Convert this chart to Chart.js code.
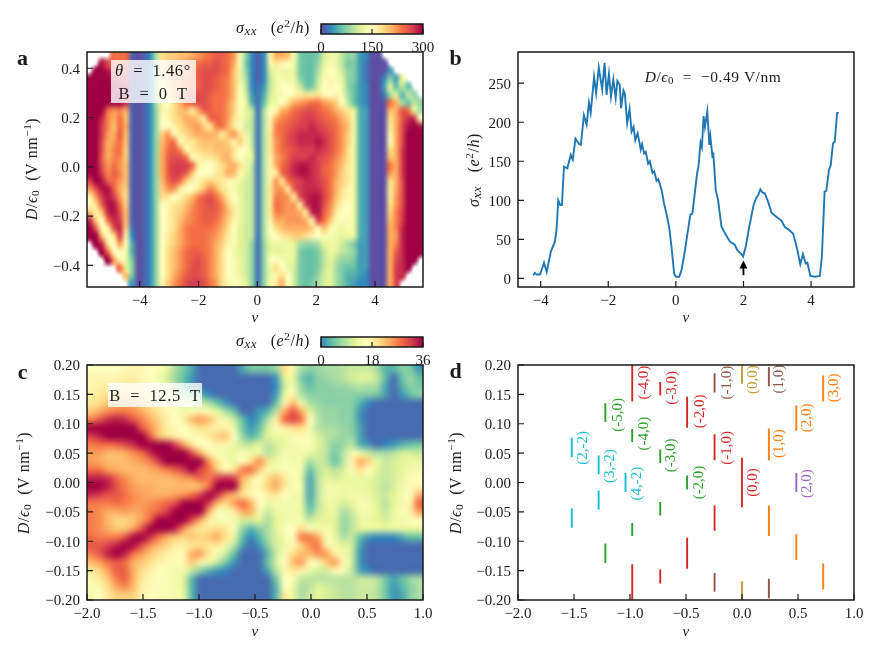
<!DOCTYPE html>
<html>
<head>
<meta charset="utf-8">
<script src="https://cdn.jsdelivr.net/npm/chart.js@4"></script>
<style>
body { margin: 0; background: #fff; }
canvas { position: absolute; }
</style>
</head>
<body>
<script>
const _ = null;

// panel a: sigma_xx in units of 10 e^2/h, rows top to bottom
const rangeNuA = [-5.79, 5.63];
const rangeDA = [-0.488, 0.466];
const sigmaA = [
[_,_,_,_,24,24,24,1, 0,1,3,9,18,19,19,20, 20,21,22,23,24,25,25,24, 22,16,8,3,1,3,16,21, 21,20,14,7,6,6,7,11, 13,13,10,8,8,4,3,0, 0,_,_,_,_,_,_,_],
[_,_,29,26,25,24,25,1, 0,1,3,9,17,19,20,21, 22,23,24,25,25,26,25,24, 21,14,7,3,1,3,13,17, 16,15,13,7,6,6,8,12, 14,13,10,7,7,4,2,0, 0,0,_,_,_,_,_,_],
[_,30,30,29,27,26,26,1, 0,1,3,9,17,18,20,21, 22,23,25,26,26,26,25,24, 20,13,8,3,1,3,11,13, 13,13,12,7,6,6,9,13, 15,14,11,8,7,4,2,0, 0,0,4,_,_,_,_,_],
[30,30,30,30,29,28,27,1, 0,1,3,9,16,18,20,21, 23,24,25,26,26,25,24,23, 20,13,9,3,1,3,10,13, 14,13,13,8,6,6,10,14, 16,14,12,8,7,4,2,0, 0,3,8,4,12,_,_,_],
[30,30,30,30,30,30,29,1, 0,1,3,9,16,18,20,21, 23,24,25,26,26,25,24,23, 20,14,10,3,2,4,10,13, 15,15,14,11,7,7,11,15, 16,15,13,8,6,4,3,0, 0,4,12,6,10,6,_,_],
[30,30,30,30,30,30,29,1, 0,1,3,9,16,17,20,22, 24,25,26,26,25,24,24,23, 20,15,11,4,2,5,11,13, 14,15,16,17,18,17,18,16, 15,16,14,9,6,4,3,0, 0,2,8,12,5,10,8,_],
[30,30,30,30,30,30,28,1, 0,1,3,9,16,15,18,21, 24,25,26,26,25,24,24,22, 19,15,12,5,2,6,12,13, 15,18,21,22,23,24,24,22, 21,19,15,10,6,4,3,0, 0,0,24,21,9,6,10,8],
[30,30,30,24,22,23,21,1, 0,1,3,8,16,16,18,20, 20,17,21,25,25,24,24,22, 19,15,12,10,2,9,15,16, 21,22,24,25,26,26,25,24, 23,21,19,17,12,5,4,0, 0,0,20,21,26,24,12,9],
[30,30,28,23,21,24,20,1, 0,1,3,8,15,16,18,19, 21,21,19,17,24,25,24,22, 18,16,12,10,2,9,16,21, 23,24,25,26,27,27,26,25, 24,23,21,19,13,5,4,0, 0,0,18,21,25,28,28,15],
[30,30,27,23,20,24,21,1, 0,1,3,8,15,15,16,18, 20,21,22,19,17,23,24,21, 17,15,11,10,2,9,16,23, 24,25,26,27,27,28,27,26, 25,24,22,20,13,5,4,0, 0,0,17,21,26,29,30,29],
[30,30,27,22,21,25,20,1, 0,1,3,8,19,22,16,17, 18,20,21,21,21,20,17,20, 22,18,13,10,2,9,17,23, 24,26,27,28,28,28,28,27, 26,24,22,19,13,5,4,0, 0,0,16,21,26,30,30,30],
[30,30,26,21,22,24,20,1, 0,1,3,8,20,23,24,16, 17,17,19,20,20,20,20,19, 16,19,16,10,2,9,17,22, 24,26,27,28,28,28,29,28, 26,24,22,19,13,5,4,0, 0,0,15,21,26,30,30,30],
[30,30,26,21,23,24,19,1, 0,1,3,8,21,24,25,23, 16,17,18,19,19,20,20,20, 18,15,15,11,2,9,17,22, 24,25,26,27,27,27,28,27, 26,24,22,18,13,5,4,0, 0,0,18,21,27,30,30,30],
[30,30,25,21,23,23,19,1, 0,1,3,8,21,25,26,26, 24,16,16,17,17,18,20,21, 17,15,13,12,2,9,16,21, 23,25,27,27,27,28,27,26, 25,23,21,18,13,5,4,0, 0,0,20,21,27,30,30,30],
[30,30,26,22,24,22,20,1, 0,1,3,8,21,25,27,27, 27,25,17,15,15,16,18,20, 21,18,13,10,2,9,16,21, 24,26,28,29,29,28,27,25, 24,22,20,17,13,5,4,0, 0,0,24,21,27,30,30,30],
[30,30,27,23,25,23,20,1, 0,1,3,8,21,25,27,27, 25,20,15,15,15,17,18,21, 20,16,12,10,2,9,16,17, 24,26,28,29,29,28,27,25, 24,22,19,17,13,5,4,0, 0,0,22,21,27,30,30,30],
[27,30,29,25,24,22,20,1, 0,1,3,8,20,24,26,24, 19,16,16,18,19,18,17,16, 14,13,11,10,2,9,16,22, 17,24,26,27,28,28,27,26, 24,21,19,17,13,5,4,0, 0,0,18,21,26,30,30,30],
[22,26,29,29,25,21,19,1, 0,1,3,8,19,22,22,17, 15,15,17,20,23,21,18,16, 14,12,11,10,2,9,17,22, 22,17,25,27,28,28,28,26, 24,21,18,16,13,5,4,0, 0,0,17,21,26,30,30,30],
[16,22,27,29,27,22,18,1, 0,1,3,8,18,17,15,16, 18,20,23,25,26,24,21,17, 15,13,11,10,2,9,17,23, 23,22,17,26,28,29,29,27, 24,20,17,16,13,5,4,0, 0,0,17,22,26,30,30,30],
[15,18,25,29,29,24,19,1, 0,1,3,8,15,16,17,18, 20,22,24,25,26,25,23,19, 16,13,11,10,2,9,17,24, 23,22,22,17,27,29,29,26, 23,19,16,15,13,5,4,0, 0,0,18,22,26,30,30,30],
[20,16,20,28,29,26,20,1, 0,1,3,8,15,16,18,19, 21,23,24,25,25,25,23,20, 17,13,11,10,2,9,17,23, 23,22,22,21,17,28,29,25, 22,17,15,15,13,5,4,0, 0,0,19,23,27,30,30,30],
[28,19,15,24,28,27,20,1, 0,1,3,8,15,16,18,20, 22,23,24,25,25,24,22,19, 16,13,11,10,2,9,16,21, 21,22,22,22,21,16,27,24, 20,16,14,14,13,5,4,0, 0,0,20,23,27,30,30,30],
[30,25,15,17,26,28,19,2, 0,1,3,8,15,16,18,21, 23,24,24,24,24,23,21,18, 15,12,11,10,2,9,15,18, 20,21,21,21,21,19,16,20, 16,14,13,14,13,5,4,0, 0,0,21,23,28,30,30,30],
[30,30,20,15,18,27,16,3, 0,1,3,8,15,17,19,21, 23,24,24,24,23,22,20,17, 14,12,11,10,2,9,14,15, 17,18,19,19,18,16,15,14, 14,13,12,13,12,5,4,0, 0,0,21,22,28,30,30,30],
[_,30,28,17,15,22,14,5, 0,1,3,8,15,17,19,21, 23,24,24,24,23,21,19,16, 14,12,11,8,2,8,12,13, 13,13,12,9,8,8,9,12, 13,13,11,9,7,4,4,0, 0,0,21,23,28,30,30,30],
[_,_,30,24,15,15,13,5, 0,1,3,8,15,18,20,22, 24,25,25,24,23,21,18,15, 13,12,11,8,2,8,12,12, 12,13,12,7,6,6,7,10, 13,12,10,9,8,4,4,0, 0,0,21,25,28,30,30,30],
[_,_,_,30,22,14,13,7, 0,1,3,8,15,18,20,22, 24,25,26,25,23,21,18,15, 14,13,11,8,2,8,15,15, 14,13,12,7,6,6,7,10, 12,10,8,8,7,4,4,0, 0,0,21,26,28,30,30,_],
[_,_,_,_,_,24,12,8, 0,1,3,8,15,18,20,22, 24,26,26,25,23,21,18,15, 14,13,11,8,2,8,13,18, 15,13,11,7,6,6,7,10, 12,9,7,6,6,4,4,0, 0,0,21,27,28,30,_,_],
[_,_,_,_,_,_,20,7, 0,1,3,8,15,18,21,23, 25,26,26,25,23,21,18,15, 14,13,11,8,2,8,13,16, 18,15,11,7,6,6,8,11, 12,9,7,5,5,4,3,0, 0,0,21,27,28,_,_,_],
[_,_,_,_,_,_,_,4, 0,1,3,8,16,19,22,24, 26,27,27,26,24,22,18,16, 15,14,12,8,2,8,14,17, 21,15,11,7,6,7,9,11, 12,9,7,5,4,3,3,0, 0,0,21,27,_,_,_,_]
];
const xTicksA = [-4, -2, 0, 2, 4];
const yTicksA = [-0.4, -0.2, 0, 0.2, 0.4];
const cbTicksA = [0, 150, 300];

// panel b: line cut at D/eps0 = -0.49 V/nm
const nuB = [-4.22,-4.17,-4.12,-4.02,-3.97,-3.9,-3.82,-3.77,-3.7,-3.58,-3.53,-3.48,-3.42,-3.37,-3.31,-3.21,-3.11,-3.05,-2.97,-2.86,-2.81,-2.72,-2.64,-2.57,-2.52,-2.42,-2.36,-2.28,-2.18,-2.11,-2.05,-1.98,-1.92,-1.85,-1.78,-1.73,-1.66,-1.62,-1.55,-1.51,-1.44,-1.37,-1.31,-1.25,-1.2,-1.13,-1.04,-1,-0.94,-0.89,-0.82,-0.77,-0.69,-0.64,-0.57,-0.52,-0.42,-0.35,-0.28,-0.2,-0.13,-0.05,0,0.1,0.17,0.27,0.36,0.43,0.49,0.57,0.63,0.67,0.73,0.77,0.82,0.86,0.93,0.99,1.02,1.08,1.11,1.18,1.25,1.35,1.45,1.6,1.74,1.82,1.94,1.99,2.07,2.17,2.3,2.38,2.43,2.5,2.56,2.63,2.73,2.83,2.97,3.12,3.22,3.35,3.47,3.57,3.68,3.76,3.84,3.89,3.98,4.11,4.26,4.32,4.4,4.45,4.53,4.58,4.65,4.7,4.77,4.82];
const sigmaB = [4,7,5,5,11,20,8,19,34,47,62,100,94,94,143,141,158,152,179,172,171,209,197,225,212,258,237,270,242,276,235,262,233,255,231,253,248,218,241,237,199,217,188,194,177,186,165,172,160,162,147,150,135,137,125,127,113,96,83,66,41,6,2,2,11,36,62,82,83,113,135,143,174,168,208,194,214,171,182,157,159,113,100,66,58,47,43,36,31,28,41,66,94,103,106,114,110,109,98,84,79,74,66,62,57,41,18,31,19,20,3,2,3,28,111,112,139,145,173,175,212,212];
const xTicksB = [-4, -2, 0, 2, 4];
const yTicksB = [0, 50, 100, 150, 200, 250];
const arrowNu = 2, arrowFrom = 4, arrowTo = 23;

// panel c: sigma_xx in e^2/h at 12.5 T, rows top to bottom; values above 36 sit on the saturated end
const sigmaC = [
[16,16,16,16,17,17,17,16, 15,13,8,5,2,-2,-2,-2, -2,-2,2,5,5,5,7,20, 14,8,6,7,8,8,9,10, 10,10,8,3,3,6,5,1],
[17,17,17,17,18,18,17,16, 14,11,7,4,1,-2,-2,-2, -2,-2,-2,-2,-2,-2,1,12, 13,5,3,6,7,8,9,11, 12,12,10,4,-2,4,7,4],
[17,18,18,18,19,19,18,17, 15,12,8,4,1,-2,-2,-2, -2,-2,-2,-2,-2,-2,0,10, 14,7,4,6,6,7,7,8, 9,8,8,2,-2,3,6,5],
[18,19,20,20,21,21,20,18, 16,14,11,8,6,3,0,-2, -2,-2,-2,-2,-2,-2,1,12, 17,8,6,6,6,6,6,6, 6,6,5,2,-2,1,4,6],
[19,20,22,23,24,24,22,20, 18,16,15,13,11,10,8,4, 1,-2,-2,-2,-2,-2,4,17, 23,14,8,7,6,6,6,6, 3,0,-2,-2,-2,-2,-2,-2],
[22,24,26,27,27,26,24,21, 19,17,15,14,15,17,15,12, 8,4,-2,-2,1,3,9,24, 30,24,12,8,7,7,6,6, 1,-2,-2,-2,-2,-2,-2,-2],
[27,30,33,34,33,30,27,24, 21,18,16,18,23,25,23,18, 14,10,4,0,2,8,18,28, 31,28,16,9,7,7,6,6, 1,-2,-2,-2,-2,-2,-2,-2],
[42,42,42,42,42,42,30,26, 22,18,17,16,18,20,19,18, 18,13,5,1,4,11,15,18, 20,20,14,9,8,8,7,6, 2,-2,-2,-2,-2,-2,-2,-2],
[32,34,42,42,42,42,42,30, 23,20,18,16,15,17,19,21, 22,16,7,3,6,12,13,13, 15,17,15,11,9,8,7,7, 2,-2,-2,-2,-2,-2,-2,-2],
[27,28,28,29,31,33,42,42, 42,42,32,25,19,16,16,18, 17,13,10,10,12,9,11,13, 14,15,15,12,9,6,7,9, 3,1,-2,0,1,3,4,5],
[25,25,23,23,24,26,28,33, 42,42,42,42,31,24,18,15, 14,13,15,13,13,9,11,14, 14,14,13,11,9,5,9,14, 14,10,8,8,9,11,11,10],
[25,24,23,23,23,24,25,27, 32,42,42,42,42,42,26,19, 15,13,16,20,26,20,13,15, 14,14,8,10,9,4,9,17, 24,21,13,10,11,12,13,13],
[28,28,25,24,23,23,23,24, 25,27,29,32,42,31,28,22, 17,20,27,28,22,14,14,15, 15,14,4,9,11,9,11,15, 20,16,12,10,11,12,14,14],
[34,34,33,29,26,24,23,23, 23,23,24,25,26,29,27,32, 33,32,24,19,16,20,23,19, 15,13,2,9,12,11,12,13, 13,13,11,10,11,13,15,16],
[42,42,34,30,27,25,24,24, 23,23,23,23,22,23,28,42, 42,42,22,18,17,21,24,19, 15,14,2,9,14,14,13,13, 13,12,11,9,11,14,17,17],
[33,32,30,30,28,26,25,24, 24,24,25,26,28,32,42,33, 26,23,20,17,16,18,19,16, 14,13,2,9,14,14,13,14, 14,13,11,10,12,14,16,24],
[27,27,27,28,27,26,25,26, 27,29,31,42,42,42,32,23, 20,25,28,24,16,13,14,14, 14,13,3,9,13,13,11,12, 15,14,12,9,12,14,18,29],
[27,26,24,24,25,24,25,27, 29,32,42,42,42,42,24,16, 14,18,24,24,14,10,13,14, 14,13,5,10,12,13,8,10, 14,14,12,10,13,15,18,25],
[27,26,23,21,21,22,25,29, 42,42,42,42,31,24,18,14, 15,14,11,11,12,8,12,14, 14,14,10,12,12,12,7,9, 13,13,12,11,13,14,15,16],
[27,26,24,22,22,25,30,42, 42,42,34,26,21,19,19,20, 19,15,7,3,6,8,12,15, 16,20,15,14,14,12,7,9, 12,13,13,12,13,13,13,13],
[28,27,27,27,30,35,42,33, 28,24,22,21,22,21,22,24, 20,13,4,0,3,8,11,14, 16,27,27,24,15,13,8,10, 4,1,0,0,0,2,4,4],
[30,30,32,34,42,35,31,26, 23,21,18,18,19,20,19,19, 14,9,2,-2,1,6,11,13, 17,21,26,27,18,14,12,11, 2,-2,-2,-2,-2,-2,-2,-2],
[27,30,34,36,34,28,25,22, 20,18,17,17,24,25,19,15, 10,4,-2,-2,-2,3,10,15, 20,23,23,26,25,18,14,11, 1,-2,-2,-2,-2,-2,-2,-2],
[23,25,28,30,28,24,22,20, 18,17,15,17,22,18,14,10, 5,1,-2,-2,-2,4,11,16, 23,25,17,15,22,25,17,11, 1,-2,-2,-2,-2,-2,-2,-2],
[19,21,25,29,29,24,20,18, 16,15,14,14,10,6,3,1, 0,-2,-2,-2,-2,2,9,14, 19,18,13,11,11,17,15,10, 2,0,-2,-2,-2,-2,-2,-2],
[17,19,22,27,29,24,19,17, 15,15,14,12,3,-2,-2,-2, -2,-2,-2,-2,-2,-2,5,16, 15,10,9,9,9,9,9,9, 10,10,9,5,2,4,7,8],
[15,17,20,24,26,23,18,17, 15,15,14,12,3,-2,-2,-2, -2,-2,-2,-2,-2,-2,3,15, 13,8,9,12,11,10,9,9, 10,10,9,5,1,3,6,8],
[14,16,19,21,21,21,18,16, 15,15,14,13,3,-2,-2,-2, -2,-2,-2,-2,-2,-2,3,19, 13,8,10,12,11,10,9,9, 10,10,9,5,1,2,6,8]
];
const xTicksC = [-2, -1.5, -1, -0.5, 0, 0.5, 1];
const yTicksC = [-0.2, -0.15, -0.1, -0.05, 0, 0.05, 0.1, 0.15, 0.2];
const cbTicksC = [0, 18, 36];

// panel d: gap segments
const segNu = [-0.98,-0.98,-0.73,-0.73,-0.49,-0.49,-0.245,-0.245,0, -0.245,-0.245,0.24,0.24, 0,0, 0.24,0.24,0.485,0.485,0.725,0.725, -1.22,-1.22,-0.98,-0.98,-0.73,-0.73,-0.49, -1.52,-1.52,-1.28,-1.28,-1.04, 0.485];
const segTop = [0.2,-0.139,0.171,-0.148,0.146,-0.094,0.082,-0.039,0.042, 0.186,-0.154,0.196,-0.164, 0.2,-0.168, 0.092,-0.039,0.131,-0.088,0.182,-0.138, 0.135,-0.104,0.091,-0.069,0.056,-0.033,0.012, 0.076,-0.044,0.046,-0.014,0.016, 0.016];
const segBottom = [0.138,-0.2,0.148,-0.172,0.093,-0.147,0.038,-0.082,-0.042, 0.153,-0.186,0.164,-0.197, 0.168,-0.2, 0.038,-0.091,0.088,-0.132,0.138,-0.182, 0.103,-0.137,0.069,-0.091,0.033,-0.056,-0.012, 0.043,-0.077,0.014,-0.046,-0.016, -0.016];
const segColor = ['r','r','r','r','r','r','r','r','r', 'b','b','b','b', 'y','y', 'o','o','o','o','o','o', 'g','g','g','g','g','g','g', 'c','c','c','c','c', 'p'];
const colorD = { r: '#d62728', b: '#8c564b', y: '#c49a3a', o: '#ff7f0e', g: '#2ca02c', c: '#17becf', p: '#9467bd' };
const labelText = ['(-4,0)','(-3,0)','(-2,0)','(-1,0)','(0,0)','(-1,0)','(0,0)','(1,0)','(3,0)','(2,0)','(1,0)','(2,0)','(-5,0)','(-4,0)','(-3,0)','(-2,0)','(2,-2)','(3,-2)','(4,-2)'];
const labelNu = [-0.87,-0.625,-0.375,-0.13,0.095,-0.13,0.1,0.33,0.825,0.58,0.33,0.58,-1.11,-0.875,-0.63,-0.38,-1.415,-1.18,-0.94];
const labelD = [0.17,0.161,0.121,0.059,0,0.17,0.175,0.176,0.161,0.11,0.066,-0.002,0.115,0.083,0.046,0,0.059,0.028,-0.002];
const labelColor = ['r','r','r','r','r','b','y','b','o','o','o','p','g','g','g','g','c','c','c'];
const xTicksD = [-2, -1.5, -1, -0.5, 0, 0.5, 1];
const yTicksD = [-0.2, -0.15, -0.1, -0.05, 0, 0.05, 0.1, 0.15, 0.2];

const SERIF = '"Liberation Serif", serif';
const INK = '#1a1a1a';
const spectral = ['#5e4fa2','#3288bd','#66c2a5','#abdda4','#e6f598','#ffffbf','#fee08b','#fdae61','#f46d43','#d53e4f','#9e0142'];

function hexRgb(h) {
    return [parseInt(h.slice(1, 3), 16), parseInt(h.slice(3, 5), 16), parseInt(h.slice(5, 7), 16)];
}

function cmap(t) {
    t = Math.min(1, Math.max(0, t)) * 10;
    const i = Math.min(9, Math.floor(t));
    const a = hexRgb(spectral[i]), b = hexRgb(spectral[i + 1]);
    return [0, 1, 2].map(k => Math.round(a[k] + (b[k] - a[k]) * (t - i)));
}

const normA = v => v / 30;
const normC = v => (v + 4) / 40;

function gridPoints(rows, xr, yr, scale) {
    const pts = [];
    rows.forEach((row, i) => row.forEach((v, j) => {
        if (v === null) return;
        pts.push({
            x: xr[0] + (xr[1] - xr[0]) * (j + 0.5) / row.length,
            y: yr[1] - (yr[1] - yr[0]) * (i + 0.5) / rows.length,
            v: v * scale
        });
    }));
    return pts;
}

// paints the value grid as a smoothed image placed by the chart's scales
function heatPlugin(rows, norm, blur) {
    return {
        id: 'heat',
        beforeDatasetsDraw(chart) {
            const off = document.createElement('canvas');
            off.width = rows[0].length;
            off.height = rows.length;
            const oc = off.getContext('2d');
            const img = oc.createImageData(off.width, off.height);
            rows.forEach((row, i) => row.forEach((v, j) => {
                if (v === null) return;
                const c = cmap(norm(v));
                const p = (i * off.width + j) * 4;
                img.data[p] = c[0]; img.data[p + 1] = c[1]; img.data[p + 2] = c[2]; img.data[p + 3] = 255;
            }));
            oc.putImageData(img, 0, 0);
            const { ctx, chartArea: a } = chart;
            const sx = chart.scales.x, sy = chart.scales.y;
            const x0 = sx.getPixelForValue(sx.min), x1 = sx.getPixelForValue(sx.max);
            const y0 = sy.getPixelForValue(sy.max), y1 = sy.getPixelForValue(sy.min);
            ctx.save();
            ctx.beginPath();
            ctx.rect(a.left, a.top, a.width, a.height);
            ctx.clip();
            ctx.imageSmoothingEnabled = true;
            ctx.imageSmoothingQuality = 'high';
            ctx.drawImage(off, x0, y0, x1 - x0, y1 - y0);
            ctx.filter = 'blur(' + blur + 'px)';
            ctx.drawImage(off, x0, y0, x1 - x0, y1 - y0);
            ctx.restore();
        }
    };
}

function drawRuns(ctx, runs, x, y, size, rot) {
    const fontOf = r => (r.i ? 'italic ' : '') + (r.w ? 'bold ' : '') + size * (r.s || 1) + 'px ' + SERIF;
    ctx.save();
    ctx.letterSpacing = (size * 0.035).toFixed(2) + 'px';
    let total = 0;
    runs.forEach(r => { ctx.font = fontOf(r); total += ctx.measureText(r.t).width; });
    ctx.translate(x, y);
    ctx.rotate(rot || 0);
    ctx.fillStyle = INK;
    ctx.textAlign = 'left';
    ctx.textBaseline = 'alphabetic';
    let pos = -total / 2;
    runs.forEach(r => {
        ctx.font = fontOf(r);
        ctx.fillText(r.t, pos, r.d || 0);
        pos += ctx.measureText(r.t).width;
    });
    ctx.restore();
}

const sigmaRuns = [{ t: 'σ', i: 1 }, { t: 'xx', i: 1, s: 0.8, d: 2 }, { t: '   (' }, { t: 'e', i: 1 }, { t: '2', s: 0.7, d: -6 }, { t: '/' }, { t: 'h', i: 1 }, { t: ')' }];
const dRuns = [{ t: 'D', i: 1 }, { t: '/' }, { t: 'ϵ', i: 1 }, { t: '0', s: 0.7, d: 2 }, { t: '  (V nm' }, { t: '−1', s: 0.7, d: -6 }, { t: ')' }];
const nuRuns = [{ t: 'ν', i: 1 }];

function tickFmt(d) {
    return v => Number(v).toFixed(d).replace('-', '−');
}

function axis(box, page, horiz, range, ticks, digits) {
    return {
        type: 'linear',
        min: range[0],
        max: range[1],
        afterBuildTicks: s => { s.ticks = ticks.map(v => ({ value: v })); },
        afterFit: s => {
            if (horiz) s.height = page.top + page.h - box.b; else s.width = box.l - page.left;
            s.paddingLeft = s.paddingRight = s.paddingTop = s.paddingBottom = 0;
        },
        grid: { display: false, drawTicks: false },
        border: { display: false },
        ticks: {
            autoSkip: false, maxRotation: 0, minRotation: 0,
            padding: horiz ? 5 : 7,
            labelOffset: horiz ? 0 : 1.5,
            color: INK, font: { family: SERIF, size: 15 }, callback: tickFmt(digits)
        }
    };
}

function addCanvas(page) {
    const c = document.createElement('canvas');
    c.width = page.w;
    c.height = page.h;
    c.style.left = page.left + 'px';
    c.style.top = page.top + 'px';
    document.body.appendChild(c);
    return c;
}

// box outline and inward ticks on the bottom and left axes
function frameAndTicks(chart, len) {
    const a = chart.chartArea, ctx = chart.ctx;
    ctx.save();
    ctx.strokeStyle = INK;
    ctx.lineWidth = 1.2;
    ctx.beginPath();
    chart.scales.x.ticks.forEach(t => {
        const px = chart.scales.x.getPixelForValue(t.value);
        ctx.moveTo(px, a.bottom);
        ctx.lineTo(px, a.bottom - len);
    });
    if (chart.scales.y.options.display) {
        chart.scales.y.ticks.forEach(t => {
            const py = chart.scales.y.getPixelForValue(t.value);
            ctx.moveTo(a.left, py);
            ctx.lineTo(a.left + len, py);
        });
    }
    ctx.stroke();
    ctx.lineWidth = 1.5;
    ctx.strokeRect(a.left, a.top, a.width, a.height);
    ctx.restore();
}

function panel(page, box, datasets, xAxis, yAxis, extra) {
    const frame = { id: 'frame', afterDraw(chart) { frameAndTicks(chart, 6); } };
    return new Chart(addCanvas(page), {
        type: 'scatter',
        data: { datasets: datasets },
        options: {
            responsive: false,
            animation: false,
            layout: { padding: { top: box.t - page.top, right: page.left + page.w - box.r, left: 0, bottom: 0 } },
            plugins: { legend: { display: false }, tooltip: { enabled: false } },
            scales: { x: xAxis, y: yAxis }
        },
        plugins: extra.concat([frame])
    });
}

function colorbar(page, box, ticks, norm) {
    const vmax = ticks[ticks.length - 1];
    new Chart(addCanvas(page), {
        type: 'scatter',
        data: { datasets: [{ data: ticks.map(v => ({ x: v, y: 0.5 })), pointRadius: 0 }] },
        options: {
            responsive: false,
            animation: false,
            layout: { padding: { top: box.t - page.top, right: page.left + page.w - box.r, left: box.l - page.left, bottom: 0 } },
            plugins: { legend: { display: false }, tooltip: { enabled: false } },
            scales: {
                x: axis(box, page, true, [0, vmax], ticks, 0),
                y: { display: false, min: 0, max: 1 }
            }
        },
        plugins: [{
            id: 'bar',
            beforeDatasetsDraw(chart) {
                const a = chart.chartArea, ctx = chart.ctx, sx = chart.scales.x;
                const g = ctx.createLinearGradient(sx.getPixelForValue(0), 0, sx.getPixelForValue(vmax), 0);
                for (let k = 0; k <= 40; k++) {
                    const c = cmap(norm(vmax / 40 * k));
                    g.addColorStop(k / 40, 'rgb(' + c.join(',') + ')');
                }
                ctx.fillStyle = g;
                ctx.fillRect(a.left, a.top, a.width, a.height);
            },
            afterDraw(chart) { frameAndTicks(chart, 5); }
        }]
    });
}

function textBox(ctx, x, y, w, h) {
    ctx.save();
    ctx.fillStyle = 'rgba(255,255,255,0.8)';
    ctx.fillRect(x, y, w, h);
    ctx.restore();
}

function overlay(id, fn, page) {
    return {
        id: id,
        afterDraw(chart) {
            const ctx = chart.ctx;
            ctx.save();
            ctx.translate(-page.left, -page.top);
            fn(ctx, chart);
            ctx.restore();
        }
    };
}

// panel a
const pageA = { left: 0, top: 0, w: 440, h: 330 };
const boxA = { l: 87, t: 52, r: 423, b: 287 };
panel(pageA, boxA,
    [{ data: gridPoints(sigmaA, rangeNuA, rangeDA, 10), pointRadius: 0 }],
    axis(boxA, pageA, true, rangeNuA, xTicksA, 0),
    axis(boxA, pageA, false, rangeDA, yTicksA, 1),
    [heatPlugin(sigmaA, normA, 0.5), overlay('notesA', ctx => {
        textBox(ctx, 111, 60, 85, 43);
        drawRuns(ctx, [{ t: 'θ', i: 1 }, { t: '  =  1.46°' }], 153, 76, 16.5);
        drawRuns(ctx, [{ t: 'B  =  0  T' }], 153, 99, 16.5);
        drawRuns(ctx, [{ t: 'a', w: 1 }], 23, 65, 22);
        drawRuns(ctx, nuRuns, 255, 322, 15);
        drawRuns(ctx, dRuns, 37, 169, 16, -Math.PI / 2);
    }, pageA)]);
colorbar({ left: 225, top: 10, w: 215, h: 48 }, { l: 321, t: 24, r: 423, b: 34 }, cbTicksA, v => v / 300);

// panel b
const pageB = { left: 440, top: 0, w: 431, h: 330 };
const boxB = { l: 518, t: 52, r: 854, b: 287 };
panel(pageB, boxB,
    [{ data: nuB.map((v, i) => ({ x: v, y: sigmaB[i] })), showLine: true, pointRadius: 0, borderColor: '#1f77b4', borderWidth: 1.9, tension: 0 }],
    axis(boxB, pageB, true, [-4.67, 5.27], xTicksB, 0),
    axis(boxB, pageB, false, [-11.1, 290], yTicksB, 0),
    [overlay('notesB', (ctx, chart) => {
        drawRuns(ctx, [{ t: 'D', i: 1 }, { t: '/' }, { t: 'ϵ', i: 1 }, { t: '0', s: 0.7, d: 2 }, { t: '  =  −0.49 V/nm' }], 713, 82, 15.5);
        drawRuns(ctx, [{ t: 'b', w: 1 }], 456, 65, 22);
        drawRuns(ctx, nuRuns, 686, 322, 15);
        drawRuns(ctx, sigmaRuns, 479, 170, 16, -Math.PI / 2);
        // arrow at nu = 2, placed by the scales
        const px = chart.scales.x.getPixelForValue(arrowNu) + pageB.left;
        const p0 = chart.scales.y.getPixelForValue(arrowFrom) + pageB.top;
        const p1 = chart.scales.y.getPixelForValue(arrowTo) + pageB.top;
        ctx.strokeStyle = '#000';
        ctx.fillStyle = '#000';
        ctx.lineWidth = 1.8;
        ctx.beginPath();
        ctx.moveTo(px, p0);
        ctx.lineTo(px, p1 + 5);
        ctx.stroke();
        ctx.beginPath();
        ctx.moveTo(px, p1);
        ctx.lineTo(px - 4, p1 + 8);
        ctx.lineTo(px + 4, p1 + 8);
        ctx.closePath();
        ctx.fill();
    }, pageB)]);

// panel c
const pageC = { left: 0, top: 330, w: 440, h: 323 };
const boxC = { l: 87, t: 365, r: 423, b: 600 };
const rangeNuC = [-2, 1], rangeDC = [-0.2, 0.2];
panel(pageC, boxC,
    [{ data: gridPoints(sigmaC, rangeNuC, rangeDC, 1), pointRadius: 0 }],
    axis(boxC, pageC, true, rangeNuC, xTicksC, 1),
    axis(boxC, pageC, false, rangeDC, yTicksC, 2),
    [heatPlugin(sigmaC, normC, 1.5), overlay('notesC', ctx => {
        textBox(ctx, 108, 383, 94, 24);
        drawRuns(ctx, [{ t: 'B  =  12.5  T' }], 155, 401, 16.5);
        drawRuns(ctx, [{ t: 'c', w: 1 }], 23, 379, 22);
        drawRuns(ctx, nuRuns, 255, 636, 15);
        drawRuns(ctx, dRuns, 29, 483, 16, -Math.PI / 2);
    }, pageC)]);
colorbar({ left: 225, top: 325, w: 215, h: 48 }, { l: 321, t: 337, r: 423, b: 347 }, cbTicksC, normC);

// panel d
const pageD = { left: 440, top: 330, w: 431, h: 323 };
const boxD = { l: 518, t: 365, r: 854, b: 600 };
panel(pageD, boxD,
    segNu.map((nu, i) => ({
        data: [{ x: nu, y: segTop[i] }, { x: nu, y: segBottom[i] }],
        showLine: true, pointRadius: 0, borderWidth: 1.9, borderColor: colorD[segColor[i]]
    })),
    axis(boxD, pageD, true, [-2, 1], xTicksD, 1),
    axis(boxD, pageD, false, [-0.2, 0.2], yTicksD, 2),
    [overlay('notesD', (ctx, chart) => {
        labelText.forEach((t, i) => {
            const px = chart.scales.x.getPixelForValue(labelNu[i]) + pageD.left;
            const py = chart.scales.y.getPixelForValue(labelD[i]) + pageD.top;
            ctx.save();
            ctx.translate(px, py);
            ctx.rotate(-Math.PI / 2);
            ctx.font = '15px ' + SERIF;
            ctx.fillStyle = colorD[labelColor[i]];
            ctx.textAlign = 'center';
            ctx.textBaseline = 'middle';
            ctx.fillText(t, 0, 0);
            ctx.restore();
        });
        drawRuns(ctx, [{ t: 'd', w: 1 }], 456, 378, 22);
        drawRuns(ctx, nuRuns, 686, 636, 15);
        drawRuns(ctx, dRuns, 461, 483, 16, -Math.PI / 2);
    }, pageD)]);

// colorbar titles
const pageT = { left: 225, top: 10, w: 100, h: 340 };
const tc = addCanvas(pageT).getContext('2d');
tc.translate(-pageT.left, -pageT.top);
drawRuns(tc, sigmaRuns, 273, 33, 16);
drawRuns(tc, sigmaRuns, 273, 346, 16);
</script>
</body>
</html>
